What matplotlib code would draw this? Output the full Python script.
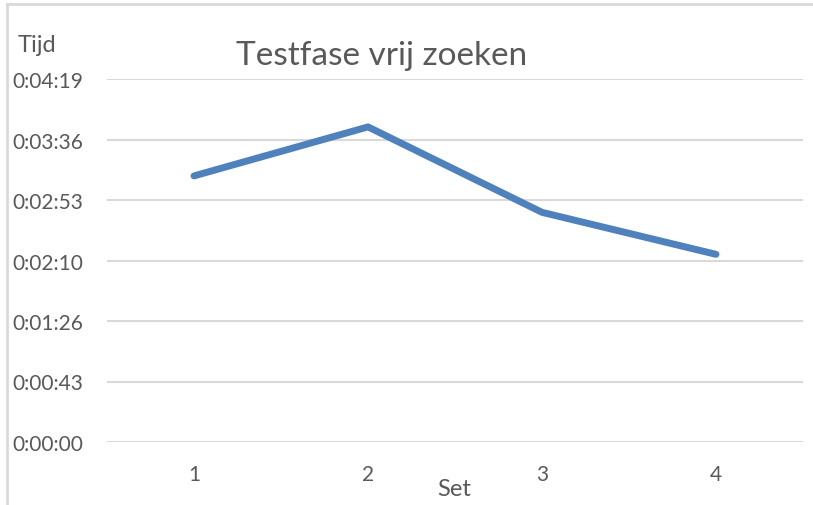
import matplotlib
matplotlib.use("Agg")
import matplotlib.pyplot as plt
from matplotlib.lines import Line2D

plt.rcParams['font.family'] = ['Lato', 'DejaVu Sans']

categories = ["1", "2", "3", "4"]
times_sec = [190, 225, 164, 134]
ytick_labels = ["0:00:00", "0:00:43", "0:01:26", "0:02:10", "0:02:53", "0:03:36", "0:04:19"]
ytick_step = 43.2  # seconds (0.0005 day)

title = "Testfase vrij zoeken"
ylabel = "Tijd"
xlabel = "Set"

W, H = 813, 506
fig = plt.figure(figsize=(W / 100, H / 100), dpi=100)
ax = fig.add_axes([107 / W, 1 - 443 / H, (803 - 107) / W, (443 - 80) / H])

text_color = "#595959"
grid_color = "#D9D9D9"

x = list(range(len(categories)))
ax.plot(x, times_sec, color="#4F81BD", linewidth=5, solid_capstyle="round", solid_joinstyle="round", zorder=3)

yticks = [i * ytick_step for i in range(len(ytick_labels))]
ax.set_ylim(yticks[0], yticks[-1])
ax.set_xlim(-0.5, len(categories) - 0.5)
ax.set_yticks(yticks)
ax.set_yticklabels(ytick_labels)
ax.set_xticks(x)
ax.set_xticklabels(categories)

for s in ax.spines.values():
    s.set_visible(False)
ax.grid(axis="y", color=grid_color, linewidth=1.5, zorder=0)
ax.tick_params(axis="both", length=0, colors=text_color, labelsize=15)
ax.tick_params(axis="y", pad=17)
ax.tick_params(axis="x", pad=16)

fig.text(382 / W, 1 - 56 / H, title, ha="center", va="center", fontsize=24, color=text_color)
fig.text(18 / W, 1 - 45 / H, ylabel, ha="left", va="center", fontsize=17, color=text_color)
fig.text(454 / W, 1 - 490 / H, xlabel, ha="center", va="center", fontsize=17, color=text_color)

fig.add_artist(Line2D([7 / W, 1], [1 - 5 / H, 1 - 5 / H], transform=fig.transFigure, color=grid_color, linewidth=2))
fig.add_artist(Line2D([7 / W, 7 / W], [1 - 5 / H, 0], transform=fig.transFigure, color=grid_color, linewidth=2))

fig.savefig("out.png", dpi=100)
